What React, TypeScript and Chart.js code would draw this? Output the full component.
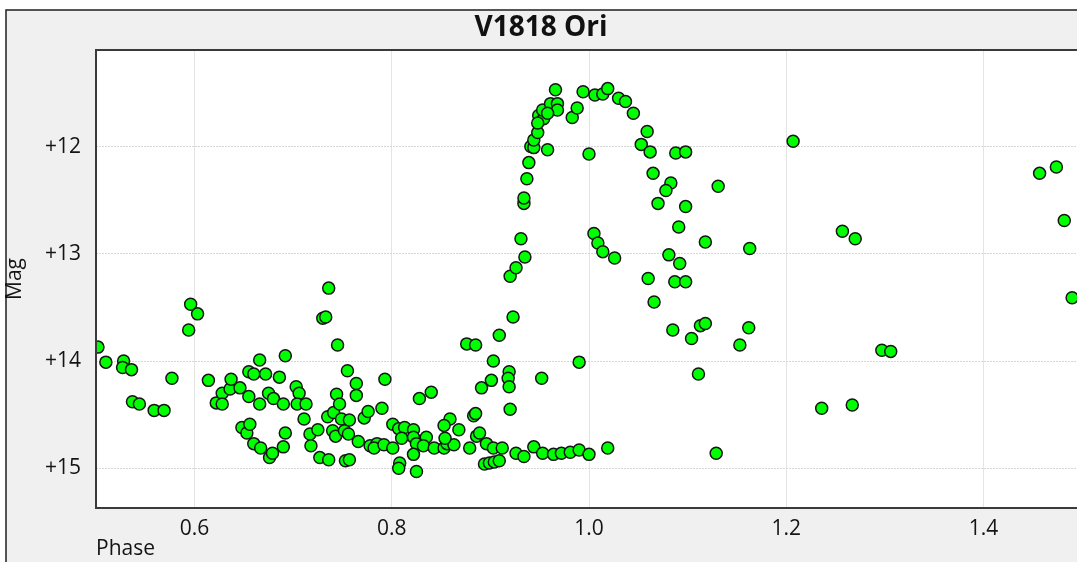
import React, { useEffect, useRef } from 'react';
import { Chart, registerables } from 'chart.js';

Chart.register(...registerables);

const chartTitle = 'V1818 Ori';
const xAxisTitle = 'Phase';
const yAxisTitle = 'Mag';

const xRange = [0.5, 1.5];
const yRange = [11.1, 15.37];

const xTickValues = [0.6, 0.8, 1.0, 1.2, 1.4];
const xTickLabels = ['0.6', '0.8', '1.0', '1.2', '1.4'];
const yTickValues = [12, 13, 14, 15];
const yTickLabels = ['+12', '+13', '+14', '+15'];

const phase = [
  0.502, 0.510, 0.528, 0.527, 0.536, 0.537, 0.544, 0.559, 0.569, 0.577,
  0.596, 0.603, 0.594, 0.614, 0.622, 0.628, 0.628, 0.636, 0.637, 0.646,
  0.648, 0.653, 0.656, 0.655, 0.660, 0.655, 0.660, 0.666, 0.667, 0.666,
  0.672, 0.675, 0.676, 0.679, 0.680, 0.686, 0.690, 0.690, 0.692, 0.692,
  0.703, 0.706, 0.704, 0.713, 0.711, 0.717, 0.718, 0.725, 0.727, 0.736,
  0.735, 0.741, 0.740, 0.743, 0.745, 0.744, 0.747, 0.749, 0.752, 0.755,
  0.753, 0.736, 0.730, 0.733, 0.764, 0.764, 0.757, 0.756, 0.757, 0.766,
  0.778, 0.785, 0.782, 0.792, 0.801, 0.801, 0.807, 0.813, 0.810, 0.822,
  0.822, 0.825, 0.835, 0.832, 0.822, 0.808, 0.807, 0.825, 0.772, 0.776,
  0.790, 0.793, 0.828, 0.840, 0.843, 0.853, 0.856, 0.863, 0.854, 0.859,
  0.853, 0.868, 0.879, 0.883, 0.885, 0.886, 0.889, 0.896, 0.903, 0.912,
  0.894, 0.899, 0.904, 0.909, 0.926, 0.934, 0.944, 0.953, 0.964, 0.972,
  0.981, 0.990, 1.000, 1.019, 1.129, 0.876, 0.885, 0.909, 0.903, 0.901,
  0.891, 0.919, 0.918, 0.919, 0.920, 0.952, 0.990, 0.923, 0.920, 0.926,
  0.935, 0.931, 0.934, 0.934, 0.937, 0.939, 0.941, 0.944, 0.944, 0.948,
  0.958, 0.949, 0.954, 0.953, 0.948, 0.961, 0.968, 0.968, 0.966, 0.983,
  0.988, 0.994, 1.006, 1.014, 1.019, 1.030, 1.037, 1.045, 1.059, 1.053,
  1.062, 1.088, 1.098, 1.065, 1.083, 1.078, 1.070, 1.098, 1.091, 1.118,
  1.081, 1.092, 1.060, 1.087, 1.098, 1.066, 1.085, 1.104, 1.113, 1.118,
  1.111, 1.000, 1.005, 1.009, 1.014, 1.026, 1.131, 1.207, 1.163, 1.162,
  1.153, 1.257, 1.270, 1.297, 1.306, 1.236, 1.267, 1.457, 1.474, 1.482,
  1.490, 0.958,
];

const mag = [
  13.87, 14.01, 14.00, 14.06, 14.08, 14.38, 14.40, 14.46, 14.46, 14.16,
  13.47, 13.56, 13.71, 14.18, 14.39, 14.30, 14.40, 14.26, 14.17, 14.25,
  14.62, 14.67, 14.59, 14.10, 14.12, 14.33, 14.77, 13.99, 14.81, 14.40,
  14.12, 14.30, 14.90, 14.86, 14.35, 14.15, 14.40, 14.80, 14.67, 13.95,
  14.24, 14.30, 14.40, 14.40, 14.54, 14.68, 14.79, 14.64, 14.90, 14.92,
  14.52, 14.48, 14.65, 14.70, 13.85, 14.31, 14.40, 14.54, 14.65, 14.09,
  14.93, 13.32, 13.60, 13.59, 14.21, 14.32, 14.55, 14.68, 14.92, 14.75,
  14.79, 14.77, 14.81, 14.78, 14.81, 14.59, 14.63, 14.62, 14.72, 14.64,
  14.71, 14.77, 14.71, 14.79, 14.87, 14.95, 15.00, 15.03, 14.53, 14.47,
  14.44, 14.17, 14.35, 14.29, 14.81, 14.81, 14.77, 14.78, 14.72, 14.54,
  14.60, 14.64, 14.81, 14.51, 14.49, 14.70, 14.67, 14.77, 14.81, 14.81,
  14.96, 14.95, 14.94, 14.93, 14.86, 14.89, 14.80, 14.86, 14.87, 14.86,
  14.85, 14.83, 14.87, 14.81, 14.86, 13.84, 13.85, 13.76, 14.00, 14.18,
  14.25, 14.10, 14.16, 14.24, 14.45, 14.16, 14.01, 13.59, 13.21, 13.13,
  13.03, 12.86, 12.53, 12.48, 12.30, 12.15, 12.00, 12.01, 11.94, 11.87,
  12.03, 11.71, 11.74, 11.66, 11.78, 11.60, 11.60, 11.66, 11.47, 11.73,
  11.64, 11.49, 11.52, 11.51, 11.46, 11.55, 11.58, 11.69, 11.86, 11.98,
  12.05, 12.06, 12.05, 12.25, 12.34, 12.41, 12.53, 12.56, 12.75, 12.89,
  13.01, 13.09, 13.23, 13.26, 13.26, 13.45, 13.71, 13.79, 13.67, 13.65,
  14.12, 12.07, 12.81, 12.90, 12.98, 13.04, 12.37, 11.95, 12.95, 13.69,
  13.85, 12.79, 12.86, 13.90, 13.91, 14.44, 14.41, 12.25, 12.19, 12.69,
  13.41, 11.69,
];

const FONT = '"Open Sans", "Noto Sans", sans-serif';
const TEXT_COLOR = '#141414';

const framePlugin = {
  id: 'frame',
  beforeDraw(chart: any) {
    const { ctx, width, height, chartArea: a } = chart;
    ctx.save();
    ctx.fillStyle = '#ffffff';
    ctx.fillRect(0, 0, width, height);
    ctx.fillStyle = '#f0f0f0';
    ctx.fillRect(6, 10, width - 6, height - 10);
    ctx.strokeStyle = '#1e1e1e';
    ctx.lineWidth = 1.5;
    ctx.beginPath();
    ctx.moveTo(6, height);
    ctx.lineTo(6, 10);
    ctx.lineTo(width, 10);
    ctx.stroke();
    ctx.fillStyle = '#ffffff';
    ctx.fillRect(a.left, a.top, a.right - a.left, a.bottom - a.top);
    ctx.restore();
  },
  afterDraw(chart: any) {
    const { ctx, chartArea: a } = chart;
    ctx.save();
    ctx.strokeStyle = '#3a3a3a';
    ctx.lineWidth = 2;
    ctx.strokeRect(a.left, a.top, a.right - a.left, a.bottom - a.top);
    ctx.restore();
  },
};

export default function App() {
  const canvasRef = useRef<HTMLCanvasElement | null>(null);

  useEffect(() => {
    if (!canvasRef.current) return;
    const points = phase.map((p, i) => ({ x: p, y: mag[i] }));
    const chart = new Chart(canvasRef.current, {
      type: 'scatter',
      data: {
        datasets: [
          {
            label: chartTitle,
            data: points,
            backgroundColor: '#00ff00',
            borderColor: '#151515',
            borderWidth: 1.5,
            pointRadius: 6,
            pointHoverRadius: 6,
          },
        ],
      },
      options: {
        animation: false,
        responsive: false,
        devicePixelRatio: 1,
        events: [],
        layout: { padding: { left: 0, top: 0, right: 18, bottom: 0 } },
        plugins: {
          legend: { display: false },
          tooltip: { enabled: false },
          title: {
            display: true,
            text: chartTitle,
            color: '#111111',
            font: { family: FONT, size: 28, weight: 'bold' },
            padding: { top: 11, bottom: 5.4 },
          },
        },
        scales: {
          x: {
            type: 'linear',
            min: xRange[0],
            max: xRange[1],
            afterBuildTicks: (s: any) => {
              s.ticks = xTickValues.map((v) => ({ value: v }));
            },
            afterFit: (s: any) => {
              s.height = 54;
            },
            ticks: {
              callback: (v: any) => xTickLabels[xTickValues.indexOf(Number(v))] ?? '',
              font: { family: FONT, size: 21 },
              color: TEXT_COLOR,
              padding: 8,
              maxRotation: 0,
              autoSkip: false,
            },
            grid: { color: '#e4e4e4', lineWidth: 1, drawTicks: false },
            border: { display: false },
            title: {
              display: true,
              text: xAxisTitle,
              align: 'start',
              color: TEXT_COLOR,
              font: { family: FONT, size: 21 },
              padding: { top: 0, bottom: 0 },
            },
          },
          y: {
            type: 'linear',
            reverse: true,
            min: yRange[0],
            max: yRange[1],
            afterBuildTicks: (s: any) => {
              s.ticks = yTickValues.map((v) => ({ value: v }));
            },
            afterFit: (s: any) => {
              s.width = 96;
            },
            ticks: {
              callback: (v: any) => yTickLabels[yTickValues.indexOf(Number(v))] ?? '',
              font: { family: FONT, size: 21 },
              color: TEXT_COLOR,
              padding: 15,
              autoSkip: false,
            },
            grid: { color: '#d6d6d6', lineWidth: 1, drawTicks: false },
            border: { display: false, dash: [2, 1] },
            title: {
              display: true,
              text: yAxisTitle,
              color: TEXT_COLOR,
              font: { family: FONT, size: 21 },
              padding: { top: 2, bottom: 0 },
            },
          },
        },
      },
      plugins: [framePlugin],
    } as any);
    return () => chart.destroy();
  }, []);

  return (
    <div
      style={{
        position: 'fixed',
        left: 0,
        top: 0,
        width: 1077,
        height: 562,
        overflow: 'hidden',
        background: '#ffffff',
      }}
    >
      <canvas ref={canvasRef} width={1100} height={562} style={{ display: 'block' }} />
    </div>
  );
}
